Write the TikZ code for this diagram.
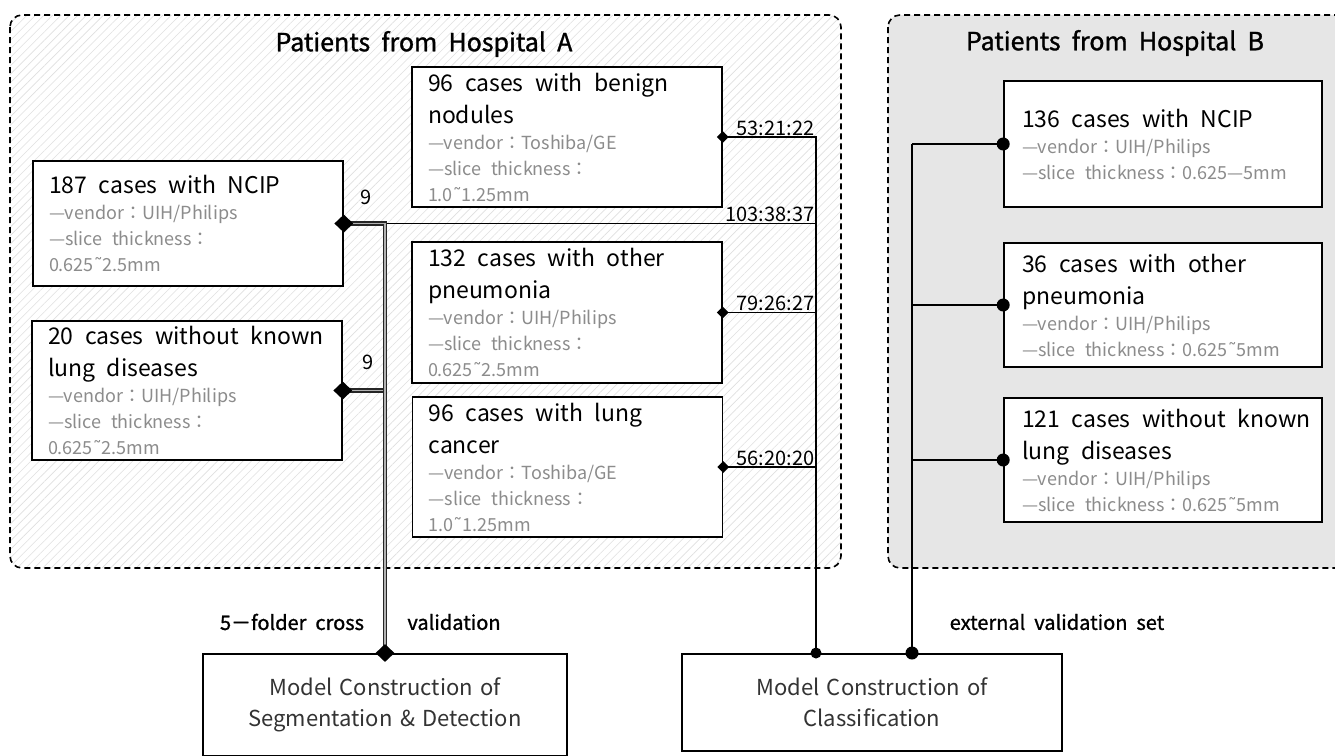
\documentclass[tikz,border=0pt]{standalone}
\usepackage{fontspec}
\setmainfont{Noto Sans CJK KR}
\newfontfamily\titlefont{Noto Sans CJK KR}[FakeBold=1.2]
\newfontfamily\tildefont{DejaVu Sans}
\usetikzlibrary{shapes.geometric,patterns.meta}

\definecolor{subgray}{HTML}{8C8C8C}
\definecolor{hospB}{HTML}{E6E6E6}
\definecolor{hatch}{HTML}{E0E0E0}

\newcommand{\smtilde}{{\tildefont ˜}}
\newcommand{\casehead}[1]{{\fontsize{23}{32}\selectfont\hyphenpenalty=10000\spaceskip=.5em plus .1em\relax #1\par}}
\newcommand{\casesub}[1]{{\fontsize{18}{26}\selectfont\hyphenpenalty=10000\spaceskip=.55em plus .1em\relax\color{subgray}#1\par}}
\newcommand{\ttlfont}{\titlefont\fontsize{25}{25}\selectfont\spaceskip=.45em\relax}
\newcommand{\vlblfont}{\titlefont\fontsize{20}{20}\selectfont\spaceskip=.45em\relax}

\begin{document}
\begin{tikzpicture}[x=1pt,y=-1pt,
	region/.style={dash pattern=on 6pt off 4pt,line width=1.6pt,rounded corners=12pt},
	casebox/.style={draw,fill=white,line width=1.6pt,align=left,inner ysep=4pt},
	caseA/.style={casebox,text width=278pt,inner xsep=16pt},
	caseB/.style={casebox,text width=282pt,inner xsep=18pt},
	modelbox/.style={draw,fill=white,line width=1.6pt,align=center,anchor=north,
		inner xsep=17pt,inner ysep=24pt,text=black!80,font=\fontsize{22}{31}\selectfont},
	thinln/.style={line width=1.8pt},
	thickln/.style={line width=2.8pt},
	dbl/.style={draw=black!85,double=black!30,double distance=1.4pt,line width=1.4pt},
	bigdia/.style={diamond,fill=black,inner sep=0pt,minimum width=19pt,minimum height=18pt},
	smalldia/.style={diamond,fill=black,inner sep=0pt,minimum size=12pt},
	bigdot/.style={circle,fill=black,inner sep=0pt,minimum size=13pt},
	smalldot/.style={circle,fill=black,inner sep=0pt,minimum size=11pt},
	ratiolbl/.style={anchor=south east,inner sep=1.5pt,font=\fontsize{20}{20}\selectfont},
	ttl/.style={font=\ttlfont},
	vlbl/.style={font=\vlblfont}]
	\useasboundingbox (0,0) rectangle (1335,755);
	\clip (0,0) rectangle (1335,755);
	\fill[white] (0,0) rectangle (1335,755);
	%hospitais
	\draw[region,pattern={Lines[angle=45,distance=6pt,line width=0.6pt]},pattern color=hatch]
		(10,15) rectangle (841,568);
	\draw[region,fill=hospB] (888,15) rectangle (1360,568);
	\node[ttl] (tA) at (424,44) {Patients from Hospital A};
	\node[ttl] (tB) at (1115,43) {Patients from Hospital B};
	%caixas hospital A
	\node[caseA,minimum height=125pt] (ncipA) at (188,223.5)
		{\casehead{187 cases with NCIP}\casesub{—vendor：UIH/Philips\\—slice thickness：\\0.625\smtilde2.5mm}};
	\node[caseA,minimum height=139pt] (normA) at (187,390.5)
		{\casehead{20 cases without known\\lung diseases}\casesub{—vendor：UIH/Philips\\—slice thickness：\\0.625\smtilde2.5mm}};
	\node[caseA,minimum height=140pt] (benA) at (567,137)
		{\casehead{96 cases with benign\\nodules}\casesub{—vendor：Toshiba/GE\\—slice thickness：\\1.0\smtilde1.25mm}};
	\node[caseA,minimum height=141pt] (pneuA) at (567,312.5)
		{\casehead{132 cases with other\\pneumonia}\casesub{—vendor：UIH/Philips\\—slice thickness：\\0.625\smtilde2.5mm}};
	\node[caseA,minimum height=140pt] (lcA) at (567.5,467)
		{\casehead{96 cases with lung\\cancer}\casesub{—vendor：Toshiba/GE\\—slice thickness：\\1.0\smtilde1.25mm}};
	%caixas hospital B
	\node[caseB,minimum height=126pt] (ncipB) at (1163,144)
		{\casehead{136 cases with NCIP}\casesub{—vendor：UIH/Philips\\\mbox{—slice thickness：0.625—5mm}}};
	\node[caseB,minimum height=124pt] (pneuB) at (1163,305)
		{\casehead{36 cases with other\\pneumonia}\casesub{—vendor：UIH/Philips\\\mbox{—slice thickness：0.625\smtilde5mm}}};
	\node[caseB,minimum height=124pt] (normB) at (1163,460)
		{\casehead{\mbox{121 cases without known}\\lung diseases}\casesub{—vendor：UIH/Philips\\\mbox{—slice thickness：0.625\smtilde5mm}}};
	%modelos
	\node[modelbox,text width=330pt] (seg) at (385,653) {Model Construction of\\Segmentation \& Detection};
	\node[modelbox,text width=346pt] (cls) at (872,653) {Model Construction of\\Classification};
	\coordinate (inA) at (816,653);
	\coordinate (inB) at (912,653);
	%validacao cruzada
	\draw[dbl] (normA.east) -- (normA.east -| seg.north);
	\draw[thinln] (ncipA.east) -- (ncipA.east -| inA);
	\draw[dbl] (ncipA.east) -- (ncipA.east -| seg.north) -- (seg.north);
	\node[font=\fontsize{20}{20}\selectfont] (n1) at (366,197) {9};
	\node[font=\fontsize{20}{20}\selectfont] (n2) at (368,362) {9};
	%classificacao
	\draw[thinln] (benA.east) -| (ncipA.east -| inA);
	\draw[thinln] (pneuA.east) -- (pneuA.east -| inA);
	\draw[thinln] (lcA.east) -- (lcA.east -| inA);
	\draw[thickln] (ncipA.east -| inA) -- (inA);
	\node[ratiolbl] (rBen) at (benA.east -| inA) {53:21:22};
	\node[ratiolbl] (rNcip) at (ncipA.east -| inA) {103:38:37};
	\node[ratiolbl] (rPneu) at (pneuA.east -| inA) {79:26:27};
	\node[ratiolbl] (rLc) at (lcA.east -| inA) {56:20:20};
	%validacao externa
	\draw[thickln] (inB) -- (inB |- ncipB.west);
	\foreach \b in {ncipB,pneuB,normB}
		\draw[thinln] (inB |- \b.west) -- (\b.west);
	%marcadores
	\node[bigdia] (mNcipA) at (ncipA.east) {};
	\node[bigdia] (mNormA) at (normA.east) {};
	\node[bigdia] (mSeg) at (seg.north) {};
	\node[smalldia] (mBen) at (benA.east) {};
	\node[smalldia] (mPneu) at (pneuA.east) {};
	\node[smalldia] (mLc) at (lcA.east) {};
	\node[smalldot] (mInA) at (inA) {};
	\node[bigdot] (mInB) at (inB) {};
	\foreach \b in {ncipB,pneuB,normB}
		\node[bigdot] (m\b) at (\b.west) {};
	%rotulos
	\node[vlbl] (vA1) at (292,622) {5－folder cross};
	\node[vlbl] (vA2) at (454,622) {validation};
	\node[vlbl] (vB) at (1057,622) {external validation set};
\end{tikzpicture}
\end{document}
